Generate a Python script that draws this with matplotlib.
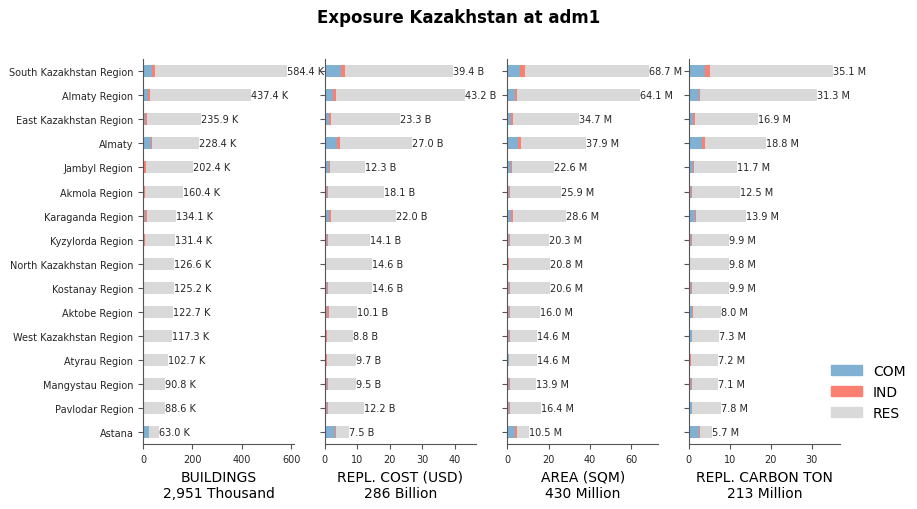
import numpy as np
import matplotlib.pyplot as plt
from matplotlib.patches import Patch

regions = ["South Kazakhstan Region", "Almaty Region", "East Kazakhstan Region",
           "Almaty", "Jambyl Region", "Akmola Region", "Karaganda Region",
           "Kyzylorda Region", "North Kazakhstan Region", "Kostanay Region",
           "Aktobe Region", "West Kazakhstan Region", "Atyrau Region",
           "Mangystau Region", "Pavlodar Region", "Astana"]

# buildings, thousands
bld_total = [584.4, 437.4, 235.9, 228.4, 202.4, 160.4, 134.1, 131.4, 126.6, 125.2,
             122.7, 117.3, 102.7, 90.8, 88.6, 63.0]
bld_com = [35, 19, 9, 34, 5, 5, 9, 5, 2, 5, 5, 1, 1, 5, 1, 24]
bld_ind = [12, 8, 5, 3, 5, 1, 5, 1, 0.5, 0.5, 0.5, 4, 4, 0.5, 4, 2]

# replacement cost, billion USD
cost_total = [39.4, 43.2, 23.3, 27.0, 12.3, 18.1, 22.0, 14.1, 14.6, 14.6,
              10.1, 8.8, 9.7, 9.5, 12.2, 7.5]
cost_com = [4.9, 2.7, 1.4, 3.8, 1.2, 0.6, 1.4, 0.6, 0.4, 0.6, 0.7, 0.5, 0.5, 0.6, 0.8, 3.1]
cost_ind = [1.4, 0.9, 0.6, 1.0, 0.5, 0.4, 0.6, 0.4, 0.05, 0.4, 0.7, 0.3, 0.3, 0.4, 0.1, 0.5]

# area, million sqm
area_total = [68.7, 64.1, 34.7, 37.9, 22.6, 25.9, 28.6, 20.3, 20.8, 20.6,
              16.0, 14.6, 14.6, 13.9, 16.4, 10.5]
area_com = [6.1, 3.8, 1.9, 5.1, 1.9, 0.8, 2.1, 0.8, 0.2, 0.8, 1.0, 0.8, 0.8, 0.8, 0.8, 3.7]
area_ind = [2.4, 0.8, 0.8, 1.4, 0.3, 0.5, 0.6, 0.5, 0.5, 0.5, 0.6, 0.5, 0.1, 0.5, 0.5, 1.0]

# replacement carbon, million ton
carb_total = [35.1, 31.3, 16.9, 18.8, 11.7, 12.5, 13.9, 9.9, 9.8, 9.9,
              8.0, 7.3, 7.2, 7.1, 7.8, 5.7]
carb_com = [4.1, 2.4, 1.1, 3.3, 1.0, 0.5, 1.5, 0.5, 0.3, 0.5, 0.9, 0.7, 0.4, 0.5, 0.7, 2.4]
carb_ind = [1.2, 0.4, 0.5, 0.7, 0.4, 0.4, 0.2, 0.4, 0.05, 0.4, 0.2, 0.05, 0.2, 0.4, 0.05, 0.4]

panels = [
    ("BUILDINGS\n2,951 Thousand", bld_total, bld_com, bld_ind, "K", 613, [0, 200, 400, 600]),
    ("REPL. COST (USD)\n286 Billion", cost_total, cost_com, cost_ind, "B", 46.5, [0, 10, 20, 30, 40]),
    ("AREA (SQM)\n430 Million", area_total, area_com, area_ind, "M", 73, [0, 20, 40, 60]),
    ("REPL. CARBON TON\n213 Million", carb_total, carb_com, carb_ind, "M", 36.9, [0, 10, 20, 30]),
]

c_com = "#80b1d3"
c_ind = "#fb8072"
c_res = "#d9d9d9"

fig = plt.figure(figsize=(9.17, 5.1), dpi=100)
lefts = [0.156, 0.354, 0.553, 0.751]
y = np.arange(len(regions))

for i, (lab, tot, com, ind, unit, xmax, ticks) in enumerate(panels):
    ax = fig.add_axes([lefts[i], 0.127, 0.165, 0.755])
    tot = np.array(tot); com = np.array(com); ind = np.array(ind)
    res = tot - com - ind
    ax.barh(y, com, height=0.5, color=c_com)
    ax.barh(y, ind, left=com, height=0.5, color=c_ind)
    ax.barh(y, res, left=com + ind, height=0.5, color=c_res)
    for yy, t in zip(y, tot):
        ax.text(t, yy, "%.1f %s" % (t, unit), va="center", ha="left",
                fontsize=7, color="#262626")
    ax.set_ylim(len(regions) - 0.5, -0.5)
    ax.set_xlim(0, xmax)
    ax.set_xticks(ticks)
    ax.set_yticks(y)
    if i == 0:
        ax.set_yticklabels(regions, fontsize=7, color="#262626")
    else:
        ax.set_yticklabels([])
    ax.tick_params(axis="x", labelsize=7, labelcolor="#262626", color="#555555")
    ax.tick_params(axis="y", color="#555555")
    ax.spines["top"].set_visible(False)
    ax.spines["right"].set_visible(False)
    ax.spines["left"].set_color("#555555")
    ax.spines["bottom"].set_color("#555555")
    ax.set_xlabel(lab, fontsize=10, labelpad=4)

fig.suptitle("Exposure Kazakhstan at adm1", fontsize=12, fontweight="bold", y=0.982)

handles = [Patch(color=c_com), Patch(color=c_ind), Patch(color=c_res)]
fig.legend(handles, ["COM", "IND", "RES"], loc="center left",
           bbox_to_anchor=(0.893, 0.23), frameon=False, fontsize=10,
           handlelength=2.2, handleheight=0.8)

fig.savefig("out.png", dpi=100)
